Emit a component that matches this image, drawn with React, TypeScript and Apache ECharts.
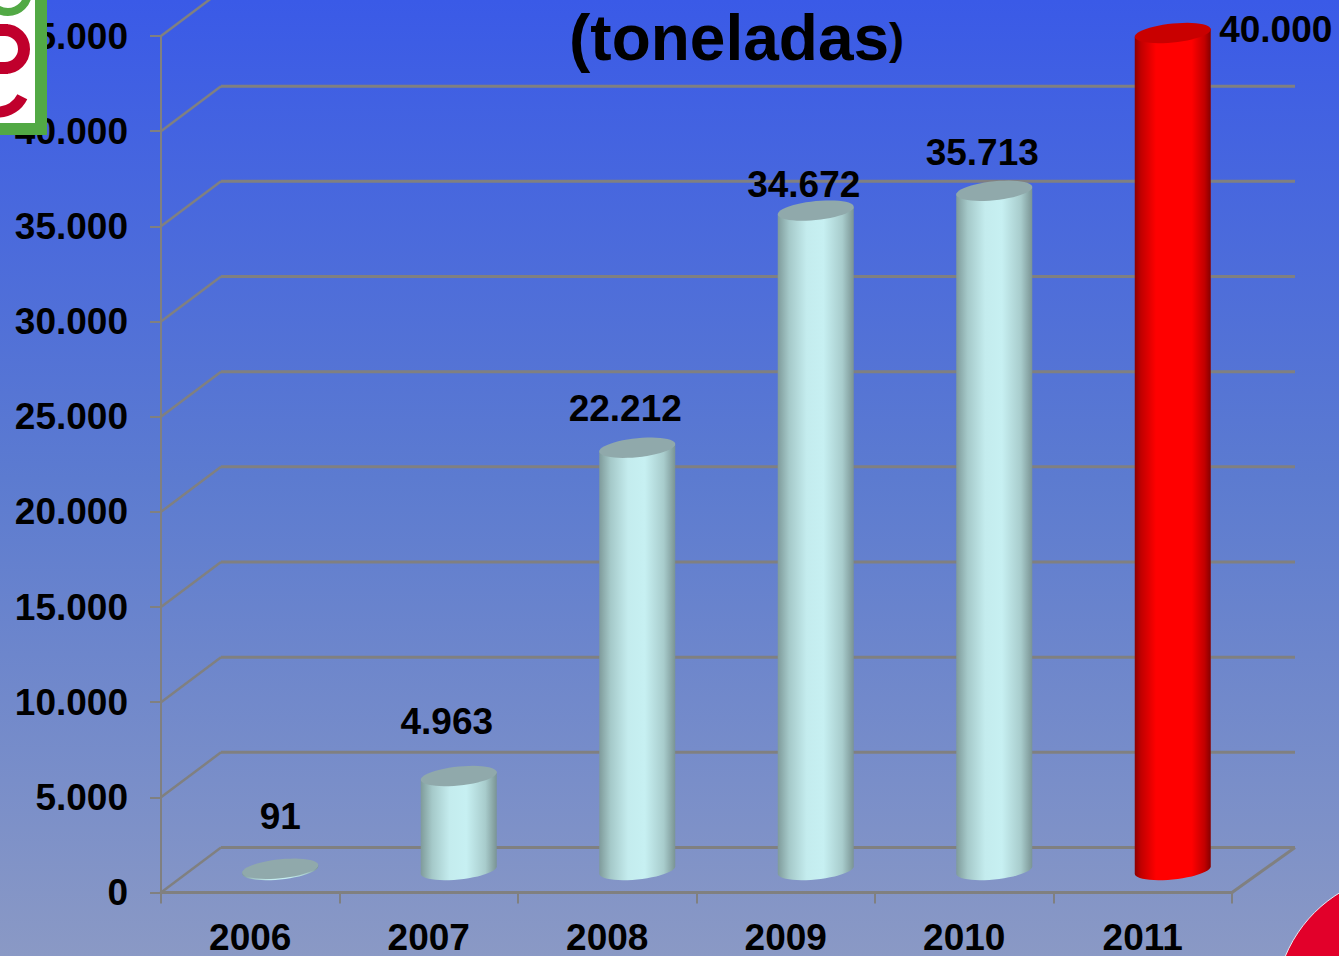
import React, { useEffect, useRef } from "react";
import * as echarts from "echarts";

const categories = ["2006", "2007", "2008", "2009", "2010", "2011"];
const barValues = [91, 4963, 22212, 34672, 35713, 44000];
const barLabels = ["91", "4.963", "22.212", "34.672", "35.713", "40.000"];
const yTicks = [0, 5000, 10000, 15000, 20000, 25000, 30000, 35000, 40000, 45000];
const yTickLabels = ["0", "5.000", "10.000", "15.000", "20.000", "25.000", "30.000", "35.000", "40.000", "45.000"];
const highlightCategory = "2011";

const FONT = "'Liberation Sans', Arial, sans-serif";
const DEPTH_X = 60;
const DEPTH_Y = 45;
const BACK_OVERHANG = 3;
const GRID_COLOR = "#808080";
const BAR_RX = 38;
const BAR_RY = 9.5;
const BAR_SHEAR = 3.7;
const CAP_DROP = 0.5;
const labelOffsets: number[][] = [
  [0, -52],
  [-12, -55],
  [-12, -39],
  [-12, -26],
  [-12, -38],
  [103, -4],
];

function ellipsePoint(cx: number, cy: number, t: number) {
  return [cx + BAR_RX * Math.cos(t), cy + BAR_RY * Math.sin(t) - BAR_SHEAR * Math.cos(t)];
}

function ellipsePoints(cx: number, cy: number) {
  const pts: number[][] = [];
  for (let i = 0; i < 48; i++) pts.push(ellipsePoint(cx, cy, (i / 48) * Math.PI * 2));
  return pts;
}

function bodyPoints(cx: number, topY: number, bottomY: number) {
  const pts: number[][] = [];
  pts.push(ellipsePoint(cx, topY, Math.PI));
  pts.push(ellipsePoint(cx, topY, 0));
  for (let i = 0; i <= 24; i++) pts.push(ellipsePoint(cx, bottomY, (i / 24) * Math.PI));
  return pts;
}

function sideGradient(stops: [number, string][]) {
  return new echarts.graphic.LinearGradient(
    0,
    0,
    1,
    0,
    stops.map(([offset, color]) => ({ offset, color }))
  );
}

const renderGridLine = (params: any, api: any) => {
  const cs = params.coordSys;
  const y = api.coord([0, api.value(0)])[1];
  const backLeftX = cs.x + DEPTH_X;
  const backRightX = cs.x + cs.width + DEPTH_X + BACK_OVERHANG;
  const backY = y - DEPTH_Y;
  const children: any[] = [
    {
      type: "line",
      shape: { x1: cs.x, y1: y, x2: backLeftX, y2: backY },
      style: { stroke: GRID_COLOR, lineWidth: 2.5, fill: "none" },
    },
    {
      type: "line",
      shape: { x1: backLeftX, y1: backY, x2: backRightX, y2: backY },
      style: { stroke: GRID_COLOR, lineWidth: 3, fill: "none" },
    },
  ];
  if (api.value(0) === 0) {
    children.push({
      type: "line",
      shape: { x1: backRightX, y1: backY, x2: cs.x + cs.width, y2: y },
      style: { stroke: GRID_COLOR, lineWidth: 3, fill: "none" },
    });
  }
  return { type: "group", children };
};

const renderCylinder = (params: any, api: any) => {
  const idx = params.dataIndex;
  const topFront = api.coord([api.value(0), api.value(1)]);
  const baseFront = api.coord([api.value(0), 0]);
  const cx = topFront[0] + DEPTH_X / 2;
  const topY = topFront[1] - DEPTH_Y / 2 + CAP_DROP;
  const bottomY = baseFront[1] - DEPTH_Y / 2;
  const hot = categories[idx] === highlightCategory;
  const bodyFill = hot
    ? sideGradient([
        [0, "#8c0000"],
        [0.08, "#c00000"],
        [0.28, "#ff0000"],
        [0.75, "#ff0000"],
        [0.92, "#c00000"],
        [1, "#860000"],
      ])
    : sideGradient([
        [0, "#7f9b9b"],
        [0.15, "#a5c9c9"],
        [0.38, "#c4ecee"],
        [0.6, "#c7f0f2"],
        [0.85, "#a8cccc"],
        [1, "#7a9494"],
      ]);
  const capFill = hot ? "#c90000" : "#90a9ab";
  const [ox, oy] = labelOffsets[idx];
  return {
    type: "group",
    children: [
      { type: "polygon", shape: { points: bodyPoints(cx, topY, bottomY) }, style: { fill: bodyFill } },
      { type: "polygon", shape: { points: ellipsePoints(cx, topY) }, style: { fill: capFill } },
      {
        type: "text",
        style: {
          x: cx + ox,
          y: topY + oy,
          text: barLabels[idx],
          fontFamily: FONT,
          fontSize: 37,
          fontWeight: "bold",
          fill: "#000000",
          align: "center",
          verticalAlign: "middle",
        },
      },
    ],
  };
};

export default function App() {
  const ref = useRef<HTMLDivElement>(null);
  useEffect(() => {
    if (!ref.current) return;
    const chart = echarts.init(ref.current, undefined, { renderer: "svg" });
    chart.setOption({
      animation: false,
      backgroundColor: new echarts.graphic.LinearGradient(0, 0, 0, 1, [
        { offset: 0, color: "#3a5ae7" },
        { offset: 0.5, color: "#5c7bd0" },
        { offset: 1, color: "#8a99c5" },
      ]),
      title: {
        text: "{a|(toneladas}{b|)}",
        left: 569,
        top: 3,
        padding: 0,
        textStyle: {
          rich: {
            a: { fontFamily: FONT, fontSize: 64, fontWeight: "bold", color: "#000000", lineHeight: 70 },
            b: { fontFamily: FONT, fontSize: 45, fontWeight: "bold", color: "#000000", lineHeight: 70 },
          },
        },
      },
      grid: { left: 161, right: 107, top: 36, bottom: 63 },
      xAxis: {
        type: "category",
        data: categories,
        boundaryGap: true,
        axisLine: { show: true, lineStyle: { color: GRID_COLOR, width: 3 } },
        axisTick: { show: true, length: 11, alignWithLabel: false, lineStyle: { color: GRID_COLOR, width: 2 } },
        axisLabel: {
          margin: 29,
          lineHeight: 32,
          fontFamily: FONT,
          fontSize: 37,
          fontWeight: "bold",
          color: "#000000",
          interval: 0,
        },
        splitLine: { show: false },
      },
      yAxis: {
        type: "value",
        min: 0,
        max: 45000,
        interval: 5000,
        axisLine: { show: true, lineStyle: { color: GRID_COLOR, width: 2 } },
        axisTick: { show: true, length: 11, lineStyle: { color: GRID_COLOR, width: 2 } },
        axisLabel: {
          margin: 33,
          padding: [5, 0, 0, 0],
          fontFamily: FONT,
          fontSize: 37,
          fontWeight: "bold",
          color: "#000000",
          formatter: (v: number) => yTickLabels[yTicks.indexOf(v)],
        },
        splitLine: { show: false },
      },
      series: [
        {
          type: "custom",
          name: "grid",
          coordinateSystem: "cartesian2d",
          renderItem: renderGridLine,
          data: yTicks.map((v) => [v]),
          encode: { y: 0 },
          silent: true,
          clip: false,
          z: 1,
        },
        {
          type: "custom",
          name: "toneladas",
          coordinateSystem: "cartesian2d",
          renderItem: renderCylinder,
          data: categories.map((_, i) => [i, barValues[i]]),
          encode: { x: 0, y: 1 },
          clip: false,
          z: 5,
        },
      ],
      graphic: [
        { type: "rect", z: 100, shape: { x: 0, y: 0, width: 47, height: 135 }, style: { fill: "#52a945" } },
        { type: "rect", z: 101, shape: { x: 0, y: 0, width: 35, height: 123 }, style: { fill: "#ffffff" } },
        {
          type: "arc",
          z: 102,
          shape: { cx: 8, cy: -8, r: 20, startAngle: 0, endAngle: Math.PI },
          style: { stroke: "#52a945", lineWidth: 8, fill: "none" },
        },
        {
          type: "arc",
          z: 102,
          shape: { cx: 5, cy: 49, r: 19, startAngle: -Math.PI / 2, endAngle: Math.PI / 2 },
          style: { stroke: "#c0002c", lineWidth: 12, fill: "none" },
        },
        { type: "rect", z: 102, shape: { x: 0, y: 62, width: 8, height: 12 }, style: { fill: "#c0002c" } },
        { type: "rect", z: 102, shape: { x: 0, y: 24, width: 8, height: 12 }, style: { fill: "#c0002c" } },
        {
          type: "arc",
          z: 102,
          shape: { cx: -2, cy: 85, r: 27, startAngle: 0.45, endAngle: Math.PI / 2 },
          style: { stroke: "#c0002c", lineWidth: 11, fill: "none" },
        },
        {
          type: "circle",
          z: 100,
          shape: { cx: 1410, cy: 1008, r: 135 },
          style: { fill: "#e2002a", stroke: "#e8e8f0", lineWidth: 1 },
        },
      ],
    });
    return () => chart.dispose();
  }, []);
  return (
    <div
      ref={ref}
      style={{ position: "fixed", left: 0, top: 0, width: 1339, height: 956 }}
    />
  );
}
